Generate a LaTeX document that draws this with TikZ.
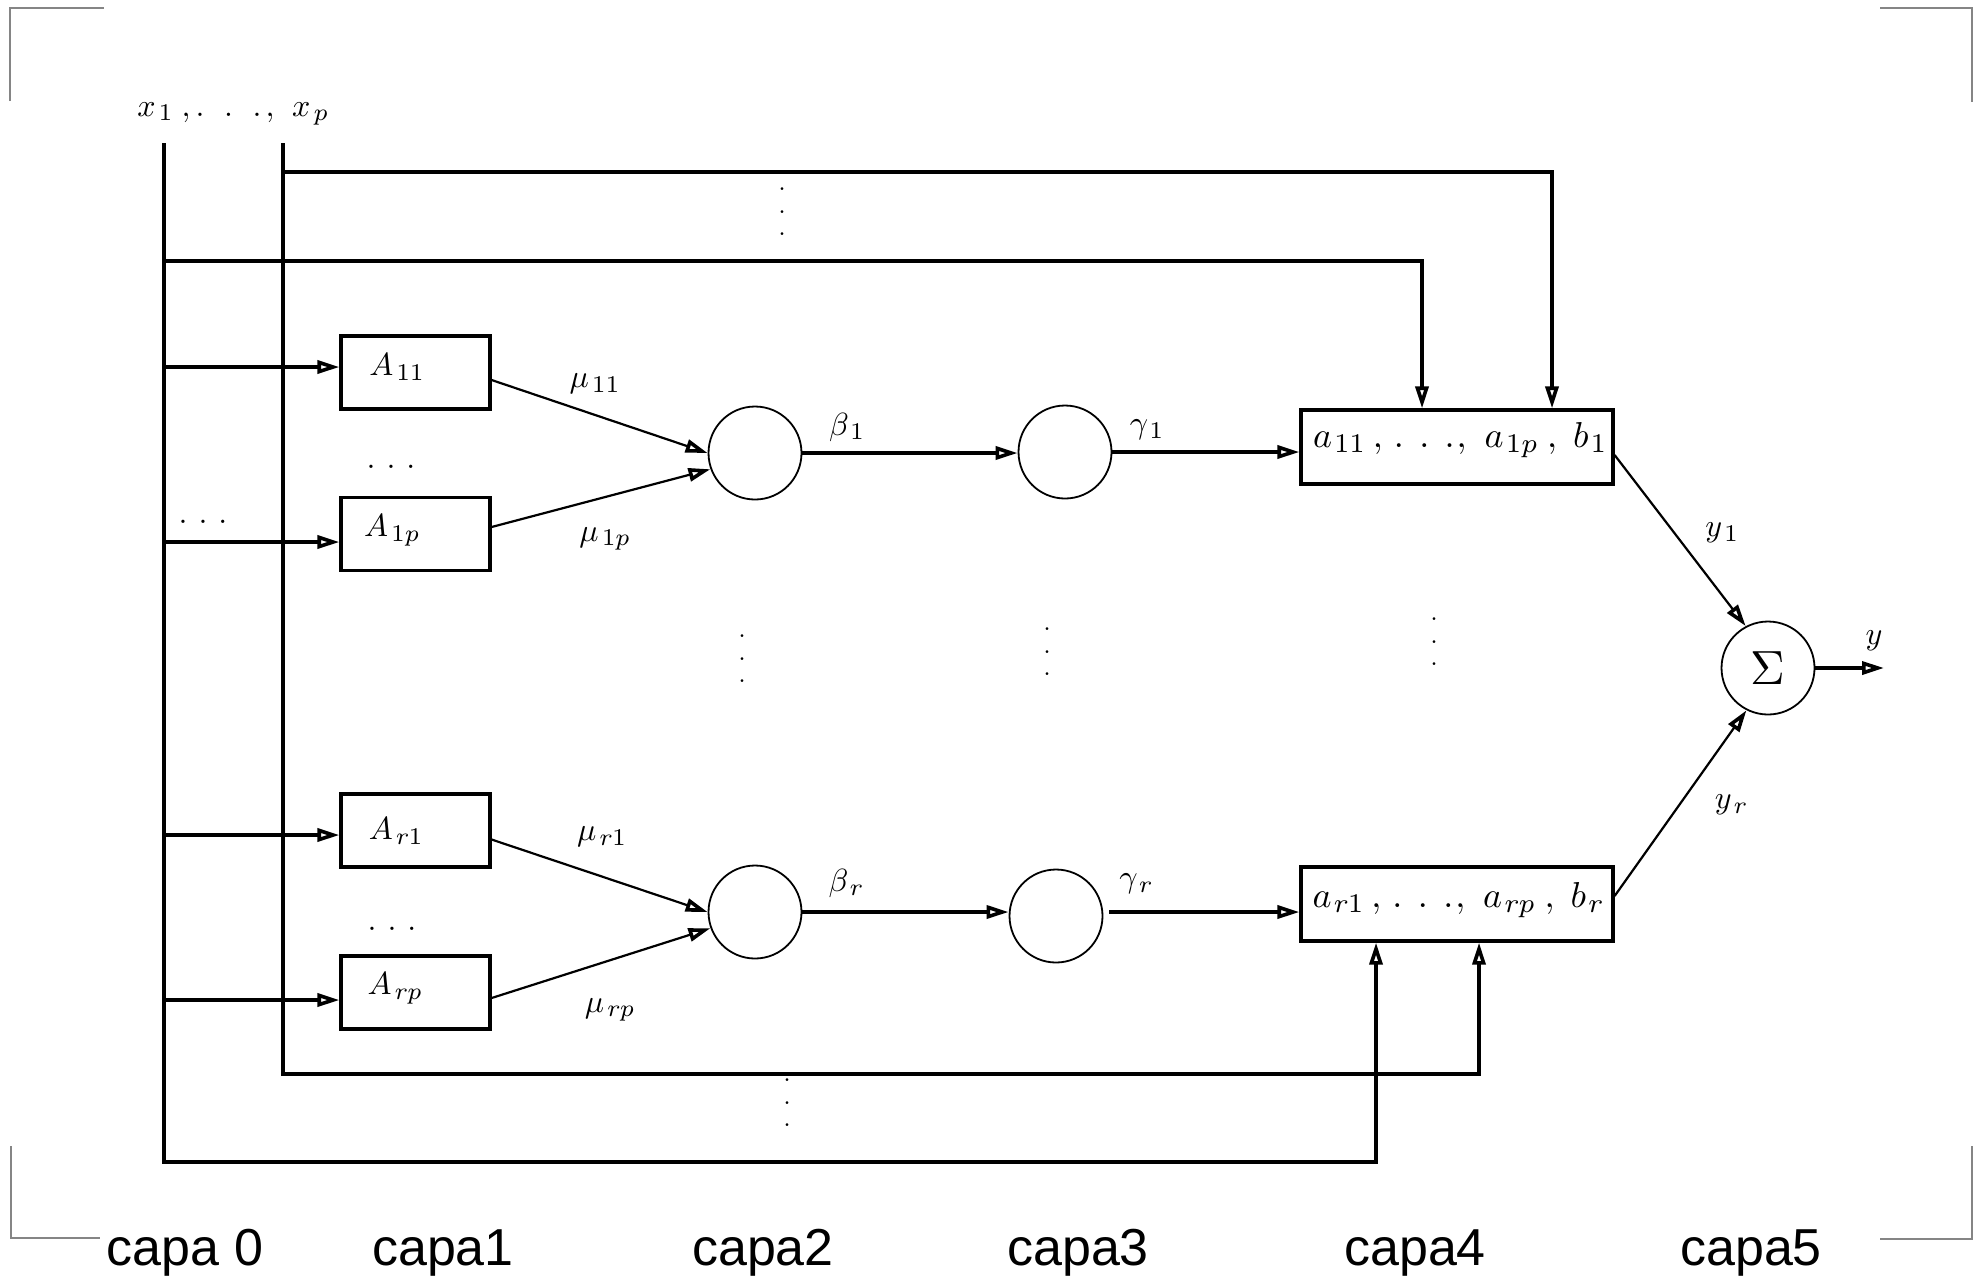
\RequirePackage{fix-cm}
\documentclass[tikz,border=0pt]{standalone}
\usepackage{fontspec}
\newfontfamily\capafont{Liberation Sans}
% math letters and digits set from the 10pt design, scaled freely
\DeclareFontShape{OML}{cmm}{m}{it}{<->cmmi10}{\skewchar\font'177}
\DeclareFontShape{OT1}{cmr}{m}{n}{<->cmr10}{}
% subscripts from the 7pt design, as TeX sets them
\font\subrmA=cmr7 at 12pt
\font\submiA=cmmi7 at 12pt
\font\subrmB=cmr7 at 13.5pt
\font\submiB=cmmi7 at 13.5pt
\usetikzlibrary{arrows.meta,calc}

% subscripts for the 16pt labels (A) and the 18pt rule boxes (B)
\newcommand{\lsA}[1]{_{\hbox{\kern1.5pt\subrmA #1}}}
\newcommand{\lsB}[1]{_{\hbox{\kern1pt\subrmB #1}}}

\tikzset{
  wire/.style={line width=2pt},
  feed/.style={line width=2pt,-{Triangle[open,length=11pt,width=6.5pt,line width=1.8pt]}},
  thinfeed/.style={line width=1.1pt,-{Triangle[open,length=11pt,width=6.5pt,line width=1.8pt]}},
  membox/.style={draw,line width=1.6pt,minimum width=74.5pt,minimum height=36.5pt,inner sep=0pt},
  rulebox/.style={draw,line width=1.6pt,minimum width=156pt,minimum height=37pt,inner sep=0pt},
  neuron/.style={draw,circle,line width=0.9pt,minimum size=46.5pt,inner sep=0pt},
  lbl/.style={inner sep=0pt,font=\fontsize{16}{19}\selectfont},
  rulelbl/.style={inner sep=0pt,font=\fontsize{18}{21}\selectfont},
  hdots/.style={anchor=base,inner sep=0pt,font=\fontsize{16}{19}\selectfont},
  vdotsnode/.style={inner sep=0pt,align=center,font=\fontsize{17}{11.25}\selectfont},
  capa/.style={anchor=base,inner sep=0pt,font=\capafont\fontsize{26}{30}\selectfont},
  corner/.style={draw=black!48,line width=1pt}
}

\begin{document}
\begin{tikzpicture}[x=0.5pt,y=-0.5pt]
\useasboundingbox (0,0) rectangle (1979,1276);

% crop corners
\draw[corner] (10,101) -- (10,8) -- (104,8);
\draw[corner] (1880,8) -- (1972,8) -- (1972,102);
\draw[corner] (11,1146) -- (11,1238) -- (100,1238);
\draw[corner] (1880,1239) -- (1972,1239) -- (1972,1146);

% inputs
\node[lbl] (xin) at (233,114) {$x\lsA{1}\mkern4.7mu,.\mkern11mu.\mkern11mu.\mkern2.3mu,\mkern7mu x\lsA{\submiA p}$};
\coordinate (x1top) at (164,143);
\coordinate (x2top) at (283,143);
\coordinate (x1bot) at (164,1162);
\coordinate (x2bot) at (283,1074);
\coordinate (x1a) at (164,261);
\coordinate (x2a) at (283,172);

% layer 1: membership boxes
\node[membox] (A11) at (415.5,372.5) {};
\node[membox] (A1p) at (415.5,534) {};
\node[membox] (Ar1) at (415.5,830.5) {};
\node[membox] (Arp) at (415.5,992.5) {};
\node[lbl] at (397,367) {$A\lsA{11}$};
\node[lbl] at (392,530) {$A\lsA{1\submiA p}$};
\node[lbl] at (396,831) {$A\lsA{\submiA r\subrmA 1}$};
\node[lbl] at (395,988) {$A\lsA{\submiA rp}$};
\node[hdots] at (391,468) {$.\mkern6.2mu.\mkern6.2mu.$};
\node[hdots] at (392,930) {$.\mkern6.2mu.\mkern6.2mu.$};
\node[hdots] at (203,523) {$.\mkern6.2mu.\mkern6.2mu.$};

% layers 2 and 3: product and normalisation nodes
\node[neuron] (b1) at (755,453) {};
\node[neuron] (br) at (755,912) {};
\node[neuron] (g1) at (1065,452) {};
\node[neuron] (gr) at (1056,916) {};

% layer 4: consequent boxes
\node[rulebox] (r1) at (1457,447) {};
\node[rulebox] (rr) at (1457,904) {};
\node[rulelbl] at (1460,440) {$a\lsB{11}\mkern3.5mu,\mkern2.5mu.\mkern7.75mu.\mkern7.75mu.\mkern1mu,\mkern6mu a\lsB{1\submiB p}\mkern4.5mu,\mkern5mu b\lsB{1}$};
\node[rulelbl] at (1458,900) {$a\lsB{\submiB r\subrmB 1}\mkern3.5mu,\mkern2.5mu.\mkern7.75mu.\mkern7.75mu.\mkern1mu,\mkern6mu a\lsB{\submiB rp}\mkern4.5mu,\mkern5mu b\lsB{\submiB r}$};

% layer 5: sum
\node[neuron,font=\fontsize{24}{28}\selectfont] (sig) at (1768,668) {$\Sigma$};
\coordinate (yout) at (1884,668);

% vertical ellipses
\node[vdotsnode] at (782,212) {.\\.\\.};
\node[vdotsnode] at (787,1103) {.\\.\\.};
\node[vdotsnode] at (742,659) {.\\.\\.};
\node[vdotsnode] at (1047,652) {.\\.\\.};
\node[vdotsnode] at (1434,642) {.\\.\\.};

% input bus
\draw[feed] (x1top) -- (x1bot) -| ([xshift=-40.5pt]rr.south);
\draw[feed] (x2top) -- (x2bot) -| ([xshift=11pt]rr.south);
\draw[feed] (x2a) -| ([xshift=47.5pt]r1.north);
\draw[feed] (x1a) -| ([xshift=-17.5pt]r1.north);

\coordinate (inA11) at ([yshift=2.75pt]A11.west);
\coordinate (inA1p) at ([yshift=-4pt]A1p.west);
\coordinate (inAr1) at ([yshift=-2.25pt]Ar1.west);
\coordinate (inArp) at ([yshift=-3.75pt]Arp.west);
\draw[feed] (x1top |- inA11) -- (inA11);
\draw[feed] (x1top |- inA1p) -- (inA1p);
\draw[feed] (x1top |- inAr1) -- (inAr1);
\draw[feed] (x1top |- inArp) -- (inArp);

% memberships into the product nodes
\draw[thinfeed] ([yshift=-3.75pt]A11.east) -- (b1.west);
\draw[thinfeed] ([yshift=3.5pt]A1p.east) -- (b1.200);
\draw[thinfeed] ([yshift=-4.5pt]Ar1.east) -- (br.west);
\draw[thinfeed] ([yshift=-2.75pt]Arp.east) -- (br.200);
\node[lbl] at (595,384) {$\mu\lsA{11}$};
\node[lbl] at (605,539) {$\mu\lsA{1\submiA p}$};
\node[lbl] at (602,837) {$\mu\lsA{\submiA r\subrmA 1}$};
\node[lbl] at (610,1010) {$\mu\lsA{\submiA rp}$};

% firing strengths
\draw[feed] (b1.east) -- (b1.east -| g1.west);
\draw[feed] (br.east) -- (br.east -| gr.west);
\node[lbl] at (847,427) {$\beta\lsA{1}$};
\node[lbl] at (846,883) {$\beta\lsA{\submiA r}$};

% normalised strengths
\draw[feed] (g1.east) -- (g1.east -| r1.west);
\draw[feed] ([xshift=3pt]br.east -| gr.east) -- (br.east -| rr.west);
\node[lbl] at (1147,430) {$\gamma\lsA{1}$};
\node[lbl] at (1136,884) {$\gamma\lsA{\submiA r}$};

% rule outputs to the sum
\draw[thinfeed] ([yshift=-4pt]r1.east) -- (sig.118);
\draw[thinfeed] ([yshift=4pt]rr.east) -- (sig.243);
\node[lbl] at (1722,533) {$y\lsA{1}$};
\node[lbl] at (1731,805) {$y\lsA{\submiA r}$};
\draw[feed] (sig.east) -- (yout);
\node[lbl] at (1874,641) {$y$};

% layer captions
\node[capa] at (185,1265) {capa 0};
\node[capa] at (443,1265) {capa1};
\node[capa] at (763,1265) {capa2};
\node[capa] at (1078,1265) {capa3};
\node[capa] at (1415,1265) {capa4};
\node[capa] at (1751,1265) {capa5};
\end{tikzpicture}
\end{document}
